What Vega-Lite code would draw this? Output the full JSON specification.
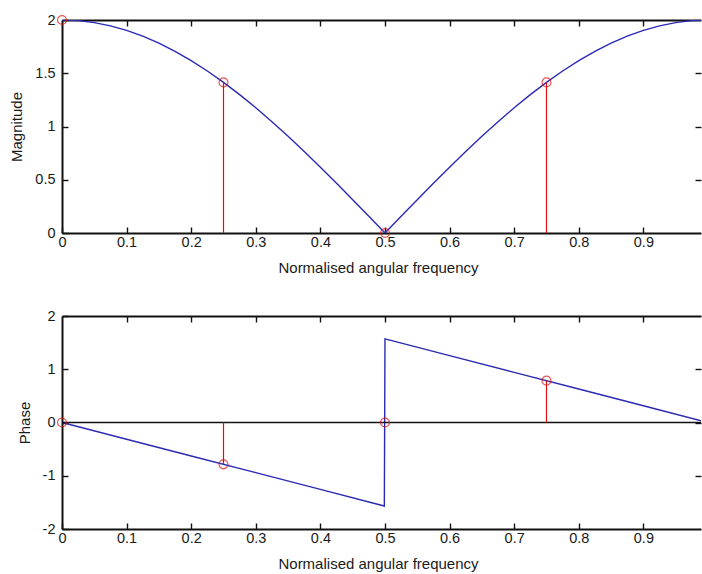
{
  "$schema": "https://vega.github.io/schema/vega-lite/v6.json",
  "padding": {"left": 9, "top": 12, "right": 0, "bottom": 3},
  "bounds": "flush",
  "spacing": 83,
  "config": {
    "view": {"stroke": null},
    "font": "Liberation Sans",
    "axis": {
      "grid": false,
      "zindex": 1,
      "domainColor": "#111111",
      "tickColor": "#111111",
      "domainWidth": 2,
      "tickWidth": 1.4,
      "tickSize": -6,
      "labelFont": "Liberation Sans",
      "labelFontSize": 14.5,
      "labelColor": "#1a1a1a",
      "labelFlush": false,
      "labelOverlap": false,
      "titleFont": "Liberation Sans",
      "titleFontSize": 15,
      "titleFontWeight": "normal",
      "titleColor": "#1a1a1a"
    }
  },
  "datasets": {
    "magnitude": [
      {"f": 0, "v": 2}, {"f": 0.025, "v": 1.9938}, {"f": 0.05, "v": 1.9754}, {"f": 0.075, "v": 1.9447},
      {"f": 0.1, "v": 1.9021}, {"f": 0.125, "v": 1.8478}, {"f": 0.15, "v": 1.782}, {"f": 0.175, "v": 1.7053},
      {"f": 0.2, "v": 1.618}, {"f": 0.225, "v": 1.5208}, {"f": 0.25, "v": 1.4142}, {"f": 0.275, "v": 1.2989},
      {"f": 0.3, "v": 1.1756}, {"f": 0.325, "v": 1.045}, {"f": 0.35, "v": 0.908}, {"f": 0.375, "v": 0.7654},
      {"f": 0.4, "v": 0.618}, {"f": 0.425, "v": 0.4669}, {"f": 0.45, "v": 0.3129}, {"f": 0.475, "v": 0.1569},
      {"f": 0.5, "v": 0},
      {"f": 0.525, "v": 0.1569}, {"f": 0.55, "v": 0.3129}, {"f": 0.575, "v": 0.4669}, {"f": 0.6, "v": 0.618},
      {"f": 0.625, "v": 0.7654}, {"f": 0.65, "v": 0.908}, {"f": 0.675, "v": 1.045}, {"f": 0.7, "v": 1.1756},
      {"f": 0.725, "v": 1.2989}, {"f": 0.75, "v": 1.4142}, {"f": 0.775, "v": 1.5208}, {"f": 0.8, "v": 1.618},
      {"f": 0.825, "v": 1.7053}, {"f": 0.85, "v": 1.782}, {"f": 0.875, "v": 1.8478}, {"f": 0.9, "v": 1.9021},
      {"f": 0.925, "v": 1.9447}, {"f": 0.95, "v": 1.9754}, {"f": 0.975, "v": 1.9938}, {"f": 1, "v": 2}
    ],
    "phase": [
      {"f": 0, "v": 0}, {"f": 0.1, "v": -0.3142}, {"f": 0.2, "v": -0.6283}, {"f": 0.3, "v": -0.9425},
      {"f": 0.4, "v": -1.2566}, {"f": 0.499, "v": -1.5677}, {"f": 0.5, "v": 1.5708}, {"f": 0.6, "v": 1.2566},
      {"f": 0.7, "v": 0.9425}, {"f": 0.8, "v": 0.6283}, {"f": 0.9, "v": 0.3142}, {"f": 1, "v": 0}
    ],
    "samples": [
      {"f": 0, "mag": 2, "phase": 0},
      {"f": 0.25, "mag": 1.4142, "phase": -0.7854},
      {"f": 0.5, "mag": 0, "phase": 0},
      {"f": 0.75, "mag": 1.4142, "phase": 0.7854}
    ],
    "baseline": [{"v": 0}]
  },
  "vconcat": [
    {
      "width": 639,
      "height": 213,
      "resolve": {"axis": {"x": "independent", "y": "independent"}},
      "layer": [
        {
          "data": {"name": "magnitude"},
          "mark": {"type": "line", "color": "#2a2ab4", "strokeWidth": 1.4, "clip": true},
          "encoding": {
            "x": {"field": "f", "type": "quantitative",
                  "scale": {"domain": [0, 0.9892], "nice": false, "zero": false},
                  "axis": {"orient": "bottom", "values": [0, 0.1, 0.2, 0.3, 0.4, 0.5, 0.6, 0.7, 0.8, 0.9],
                           "format": "~g", "labelPadding": 8, "title": "Normalised angular frequency",
                           "titlePadding": 12, "titleX": 316}},
            "y": {"field": "v", "type": "quantitative",
                  "scale": {"domain": [0, 2], "nice": false},
                  "axis": {"orient": "left", "values": [0, 0.5, 1, 1.5, 2], "format": "~g",
                           "labelPadding": 13, "title": "Magnitude", "titlePadding": 10}}
          }
        },
        {
          "data": {"name": "samples"},
          "transform": [{"filter": "datum.f > 0"}],
          "mark": {"type": "rule", "color": "#dd1111", "strokeWidth": 1.2},
          "encoding": {
            "x": {"field": "f", "type": "quantitative",
                  "axis": {"orient": "top", "values": [0.1, 0.2, 0.3, 0.4, 0.5, 0.6, 0.7, 0.8, 0.9],
                           "labels": false, "title": null}},
            "y": {"field": "mag", "type": "quantitative",
                  "axis": {"orient": "right", "values": [0.5, 1, 1.5], "labels": false, "domain": false, "title": null}},
            "y2": {"datum": 0}
          }
        },
        {
          "data": {"name": "samples"},
          "mark": {"type": "point", "shape": "circle", "filled": false, "color": "#dd1111", "size": 80, "strokeWidth": 1.2},
          "encoding": {
            "x": {"field": "f", "type": "quantitative", "axis": null},
            "y": {"field": "mag", "type": "quantitative", "axis": null}
          }
        }
      ]
    },
    {
      "width": 639,
      "height": 213,
      "resolve": {"axis": {"x": "independent", "y": "independent"}},
      "layer": [
        {
          "data": {"name": "phase"},
          "mark": {"type": "line", "color": "#2a2ab4", "strokeWidth": 1.4, "clip": true},
          "encoding": {
            "x": {"field": "f", "type": "quantitative",
                  "scale": {"domain": [0, 0.9892], "nice": false, "zero": false},
                  "axis": {"orient": "bottom", "values": [0, 0.1, 0.2, 0.3, 0.4, 0.5, 0.6, 0.7, 0.8, 0.9],
                           "format": "~g", "labelPadding": 8, "title": "Normalised angular frequency",
                           "titlePadding": 12, "titleX": 316}},
            "y": {"field": "v", "type": "quantitative",
                  "scale": {"domain": [-2, 2], "nice": false},
                  "axis": {"orient": "left", "values": [-2, -1, 0, 1, 2], "labelExpr": "'' + datum.value",
                           "labelPadding": 13, "title": "Phase", "titlePadding": 10}}
          }
        },
        {
          "data": {"name": "baseline"},
          "mark": {"type": "rule", "color": "#111111", "strokeWidth": 1.6},
          "encoding": {
            "y": {"field": "v", "type": "quantitative", "axis": null}
          }
        },
        {
          "data": {"name": "samples"},
          "mark": {"type": "rule", "color": "#dd1111", "strokeWidth": 1.2},
          "encoding": {
            "x": {"field": "f", "type": "quantitative",
                  "axis": {"orient": "top", "values": [0.1, 0.2, 0.3, 0.4, 0.5, 0.6, 0.7, 0.8, 0.9],
                           "labels": false, "title": null}},
            "y": {"field": "phase", "type": "quantitative",
                  "axis": {"orient": "right", "values": [-1, 0, 1], "labels": false, "domain": false, "title": null}},
            "y2": {"datum": 0}
          }
        },
        {
          "data": {"name": "samples"},
          "mark": {"type": "point", "shape": "circle", "filled": false, "color": "#dd1111", "size": 80, "strokeWidth": 1.2},
          "encoding": {
            "x": {"field": "f", "type": "quantitative", "axis": null},
            "y": {"field": "phase", "type": "quantitative", "axis": null}
          }
        }
      ]
    }
  ]
}
